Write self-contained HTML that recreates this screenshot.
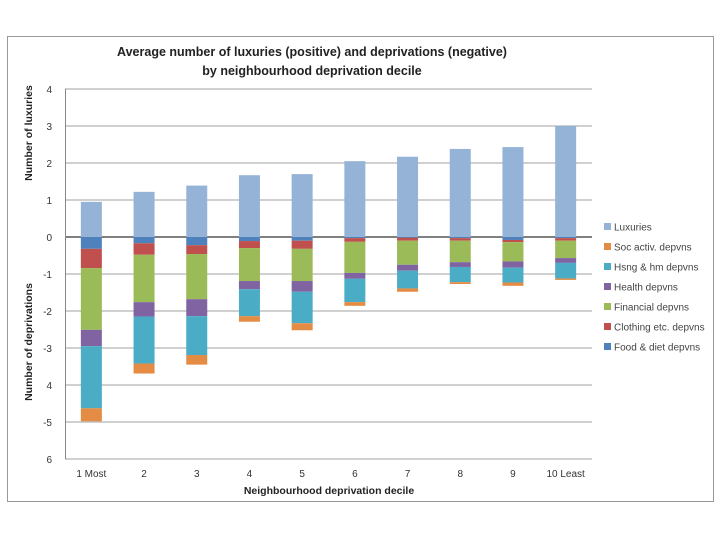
<!DOCTYPE html>
<html><head><meta charset="utf-8"><style>
body{margin:0;background:#fff;width:720px;height:540px;overflow:hidden;font-family:"Liberation Sans",sans-serif}
</style></head><body>
<svg id="chart" width="720" height="540" xmlns="http://www.w3.org/2000/svg" font-family="Liberation Sans, sans-serif">
<rect x="7.5" y="36.5" width="706" height="465" fill="#fff" stroke="#999" stroke-width="1"/>
<text x="312" y="56" text-anchor="middle" font-size="12.5" font-weight="bold" fill="#222">Average number of luxuries (positive) and deprivations (negative)</text>
<text x="312" y="75" text-anchor="middle" font-size="12.5" font-weight="bold" fill="#222">by neighbourhood deprivation decile</text>
<text transform="translate(32,133) rotate(-90)" text-anchor="middle" font-size="10.5" font-weight="bold" fill="#222">Number of luxuries</text>
<text transform="translate(32,342) rotate(-90)" text-anchor="middle" font-size="10.5" font-weight="bold" fill="#222">Number of deprivations</text>
<text x="329" y="494" text-anchor="middle" font-size="10.5" font-weight="bold" fill="#222">Neighbourhood deprivation decile</text>
<g id="grid"></g><g id="bars"></g><g id="axes"></g><g id="legend"></g>
</svg>
<script>
const categories=["1 Most","2","3","4","5","6","7","8","9","10 Least"];
const yTickValues=[4,3,2,1,0,-1,-2,-3,-4,-5,-6];
const yTickLabels=["4","3","2","1","0","-1","-2","-3","4","-5","6"];
const luxuries=[0.95,1.22,1.39,1.67,1.70,2.05,2.17,2.38,2.43,3.0];
const foodDep=[0.32,0.17,0.22,0.11,0.10,0.03,0.02,0.03,0.08,0.03];
const clothingDep=[0.52,0.31,0.24,0.19,0.22,0.10,0.08,0.07,0.06,0.07];
const financialDep=[1.67,1.28,1.22,0.89,0.87,0.84,0.65,0.58,0.52,0.47];
const healthDep=[0.44,0.39,0.46,0.22,0.29,0.16,0.16,0.13,0.17,0.13];
const housingDep=[1.68,1.27,1.05,0.73,0.85,0.63,0.48,0.41,0.40,0.42];
const socDep=[0.35,0.27,0.26,0.15,0.19,0.10,0.09,0.05,0.09,0.04];
const NS="http://www.w3.org/2000/svg";
const X0=65,X1=592,Y0=237,U=37;
const y=v=>Y0-v*U;
const bw=(X1-X0)/categories.length;
const xc=i=>X0+bw*(i+0.5);
function mk(t,a,p){const e=document.createElementNS(NS,t);for(const k in a)e.setAttribute(k,a[k]);p.appendChild(e);return e;}
const grid=document.getElementById('grid'),bars=document.getElementById('bars'),axes=document.getElementById('axes'),legend=document.getElementById('legend');
yTickValues.forEach((v,i)=>{
 const l=mk('line',{x1:X0,x2:X1,y1:y(v),y2:y(v),stroke:v===0?'#808080':'#a0a0a0','stroke-width':v===0?2:1},grid);
 
 
 const t=mk('text',{x:X0-13,y:y(v)+4,'text-anchor':'end','font-size':10,fill:'#333'},axes);
 t.textContent=yTickLabels[i];
 
 
});
const ax=mk('line',{x1:X0+0.5,x2:X0+0.5,y1:y(4),y2:y(-6),stroke:'#888'},axes);


categories.forEach((c,i)=>{
 const t=mk('text',{x:xc(i),y:477,'text-anchor':'middle','font-size':10,fill:'#333'},axes);
 t.textContent=c;
 
 
});
const series=[
 {n:'Luxuries',d:luxuries,c:'#95B3D7',pos:true},
 {n:'Food & diet depvns',d:foodDep,c:'#4F81BD'},
 {n:'Clothing etc. depvns',d:clothingDep,c:'#C0504D'},
 {n:'Financial depvns',d:financialDep,c:'#9BBB59'},
 {n:'Health depvns',d:healthDep,c:'#8064A2'},
 {n:'Hsng & hm depvns',d:housingDep,c:'#4BACC6'},
 {n:'Soc activ. depvns',d:socDep,c:'#E48C44'}];
const W=21;
categories.forEach((c,i)=>{
 let cum=0;
 series.forEach(s=>{
  const v=s.d[i];let top,bot;
  if(s.pos){top=y(v);bot=y(0);}else{top=y(-cum);bot=y(-cum-v);cum+=v;}
  const r=mk('rect',{x:xc(i)-W/2,y:top,width:W,height:Math.max(0,bot-top),fill:s.c},bars);
  
  
 });
});
const legOrder=['Luxuries','Soc activ. depvns','Hsng & hm depvns','Health depvns','Financial depvns','Clothing etc. depvns','Food & diet depvns'];
legOrder.forEach((n,k)=>{
 const s=series.find(q=>q.n===n);
 const yy=227+k*20;
 const r=mk('rect',{x:604,y:yy-4,width:7,height:7,fill:s.c},legend);
 
 
 const t=mk('text',{x:614,y:yy+3.5,'font-size':10,fill:'#444'},legend);
 t.textContent=n;
 
 
});
</script>
</body></html>
